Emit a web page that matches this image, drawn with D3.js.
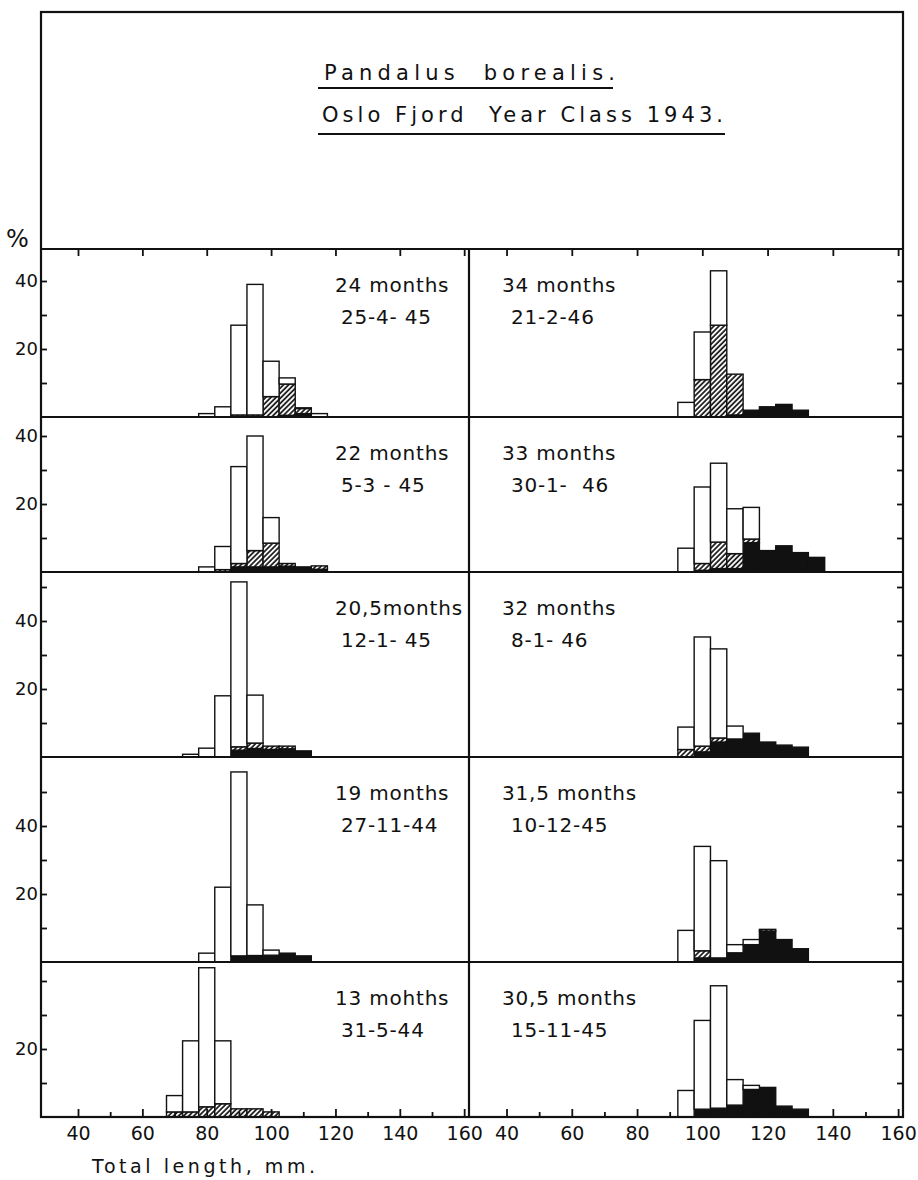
<!DOCTYPE html>
<html>
<head>
<meta charset="utf-8">
<title>Pandalus borealis - Oslo Fjord Year Class 1943</title>
<script src="https://d3js.org/d3.v7.min.js"></script>
<style>
  body { margin: 0; background: #fff; }
  svg { display: block; }
  text { font-family: "DejaVu Sans", sans-serif; fill: #111; }
  .frame { stroke: #111; stroke-width: 2.2; fill: none; }
  .axis path { display: none; }
  .axis line { stroke: #111; stroke-width: 1.8; }
  .axis text { font-size: 18px; }
  .bottom text { font-size: 19px; }
  .bar { stroke: #111; stroke-width: 1.4; }
  .label { font-size: 20px; letter-spacing: 0.8px; white-space: pre; }
</style>
</head>
<body>
<svg id="chart" width="918" height="1180"></svg>
<script>
// centre of each 5 mm length class
var lengthClasses = [70, 75, 80, 85, 90, 95, 100, 105, 110, 115, 120, 125, 130, 135];

// panels: left column top to bottom, then right column top to bottom
var ageLabels = ["24 months", "22 months", "20,5months", "19 months", "13 mohths",
                 "34 months", "33 months", "32 months", "31,5 months", "30,5 months"];
var dateLabels = ["25-4- 45", "5-3 - 45", "12-1- 45", "27-11-44", "31-5-44",
                  "21-2-46", "30-1-  46", "8-1- 46", "10-12-45", "15-11-45"];

// percent per length class, stacked: black at the bottom, hatched, open on top
var blackPct = [
  [0, 0, 0, 0, 0, 0, 0, 0.5, 1.0, 0, 0, 0, 0, 0],
  [0, 0, 0, 0, 1.5, 1.5, 1.5, 1.7, 1.5, 0.8, 0, 0, 0, 0],
  [0, 0, 0, 0, 2, 2.5, 2.2, 2.4, 1.8, 0, 0, 0, 0, 0],
  [0, 0, 0, 0, 1.8, 1.9, 2, 2.6, 1.8, 0, 0, 0, 0, 0],
  [0, 0, 0, 0, 0, 0, 0, 0, 0, 0, 0, 0, 0, 0],
  [0, 0, 0, 0, 0, 0, 0, 0, 0.6, 2, 3, 3.7, 2, 0],
  [0, 0, 0, 0, 0, 0, 0.5, 1, 1, 8.6, 6.3, 7.7, 5.7, 4.3],
  [0, 0, 0, 0, 0, 0, 1.5, 4.4, 5.3, 7, 4.4, 3.5, 2.9, 0],
  [0, 0, 0, 0, 0, 0, 1.2, 1.2, 2.7, 5.1, 9.1, 6.6, 3.9, 0],
  [0, 0, 0, 0, 0, 0, 2.3, 2.6, 3.5, 8.1, 8.7, 3.2, 2.3, 0]
];
var hatchedPct = [
  [0, 0, 0, 0, 0.6, 0.6, 6, 9.2, 1.5, 0, 0, 0, 0, 0],
  [0, 0, 0, 0.7, 1, 4.8, 7, 0.8, 0, 1, 0, 0, 0, 0],
  [0, 0, 0, 0, 1, 1.6, 1, 0.8, 0, 0, 0, 0, 0, 0],
  [0, 0, 0, 0, 0, 0, 0, 0, 0, 0, 0, 0, 0, 0],
  [1.5, 1.5, 3, 3.9, 2.4, 2.4, 1.5, 0, 0, 0, 0, 0, 0, 0],
  [0, 0, 0, 0, 0, 0, 11, 27, 12, 0, 0, 0, 0, 0],
  [0, 0, 0, 0, 0, 0, 2, 7.8, 4.4, 1.1, 0, 0, 0, 0],
  [0, 0, 0, 0, 0, 2.2, 1.7, 1.2, 0, 0, 0, 0, 0, 0],
  [0, 0, 0, 0, 0, 0, 2.1, 0, 0, 0, 0.5, 0, 0, 0],
  [0, 0, 0, 0, 0, 0, 0, 0, 0, 0, 0, 0, 0, 0]
];
var openPct = [
  [0, 0, 1, 3, 26.4, 38.4, 10.4, 1.8, 0.2, 1, 0, 0, 0, 0],
  [0, 0, 1.5, 6.8, 28.5, 33.7, 7.5, 0, 0, 0, 0, 0, 0, 0],
  [0, 0.8, 2.6, 18, 48.5, 14.1, 0, 0, 0, 0, 0, 0, 0, 0],
  [0, 0, 2.6, 22, 54.1, 14.9, 1.5, 0, 0, 0, 0, 0, 0, 0],
  [4.8, 20.9, 40.9, 18.5, 0, 0, 0, 0, 0, 0, 0, 0, 0, 0],
  [0, 0, 0, 0, 0, 4.3, 14, 16, 0, 0, 0, 0, 0, 0],
  [0, 0, 0, 0, 0, 7, 22.5, 23.2, 13.2, 9.3, 0, 0, 0, 0],
  [0, 0, 0, 0, 0, 6.6, 32.1, 26.2, 3.8, 0, 0, 0, 0, 0],
  [0, 0, 0, 0, 0, 9.3, 30.7, 28.6, 2.4, 1.5, 0, 0, 0, 0],
  [0, 0, 0, 0, 0, 7.8, 26.1, 36, 7.5, 1.2, 0, 0, 0, 0]
];

var xMajorTicks = [40, 60, 80, 100, 120, 140, 160];
var xMinorTicks = [50, 70, 90, 110, 130, 150];
var yLabelTicks = [[20, 40], [20, 40], [20, 40], [20, 40], [20]];

// layout
var frameLeft = 41, frameMid = 469, frameRight = 903, frameTop = 12;
var rowEdges = [249, 417, 572, 757, 962, 1117];
var pxPerPct = 3.4;
var xDomain = [28.5, 161.5];
var classWidth = 5;

var svg = d3.select("#chart");

var defs = svg.append("defs");
var hatch = defs.append("pattern")
    .attr("id", "hatch")
    .attr("patternUnits", "userSpaceOnUse")
    .attr("width", 3.6)
    .attr("height", 3.6)
    .attr("patternTransform", "rotate(45)");
hatch.append("rect").attr("width", 3.6).attr("height", 3.6).attr("fill", "#fff");
hatch.append("line")
    .attr("x1", 1).attr("y1", 0).attr("x2", 1).attr("y2", 3.6)
    .attr("stroke", "#111").attr("stroke-width", 1.7);

var fills = { black: "#111", hatched: "url(#hatch)", open: "#fff" };
var stack = d3.stack().keys(["black", "hatched", "open"]);

for (var p = 0; p < 10; p++) {
  drawPanel(p);
}

function drawPanel(p) {
  var col = p < 5 ? 0 : 1;
  var row = p % 5;
  var top = rowEdges[row], base = rowEdges[row + 1];
  var x0 = col === 0 ? frameLeft : frameMid;
  var x1 = col === 0 ? frameMid : frameRight;

  var x = d3.scaleLinear().domain(xDomain).range([x0, x1]);
  var y = d3.scaleLinear().domain([0, (base - top) / pxPerPct]).range([base, top]);

  var rows = lengthClasses.map(function(c, i) {
    return { len: c, black: blackPct[p][i], hatched: hatchedPct[p][i], open: openPct[p][i] };
  });
  var series = stack(rows);

  var g = svg.append("g").attr("class", "panel");
  series.forEach(function(s) {
    g.selectAll(null)
      .data(s.filter(function(d) { return d[1] - d[0] > 0; }))
      .enter()
      .append("rect")
        .attr("class", "bar")
        .attr("x", function(d) { return x(d.data.len - classWidth / 2); })
        .attr("width", function(d) { return x(d.data.len + classWidth / 2) - x(d.data.len - classWidth / 2); })
        .attr("y", function(d) { return y(d[1]); })
        .attr("height", function(d) { return y(d[0]) - y(d[1]); })
        .attr("fill", fills[s.key]);
  });

  // labels
  var lx = col === 0 ? x1 - 134 : x0 + 33;
  g.append("text").attr("class", "label")
    .attr("x", lx).attr("y", top + 43).text(ageLabels[p]);
  g.append("text").attr("class", "label")
    .attr("x", lx + (col === 0 ? 6 : 9)).attr("y", top + 75).text(dateLabels[p]);

  // y ticks
  var maxPct = (base - top - 4) / pxPerPct;
  var yTicks = d3.range(10, maxPct, 10);
  if (col === 0) {
    svg.append("g")
      .attr("class", "axis")
      .attr("transform", "translate(" + frameLeft + ",0)")
      .call(d3.axisLeft(y).tickValues(yTicks).tickSize(-6).tickPadding(3)
        .tickFormat(function(d) { return yLabelTicks[row].indexOf(d) >= 0 ? d : ""; }));
  } else {
    svg.append("g")
      .attr("class", "axis")
      .attr("transform", "translate(" + frameRight + ",0)")
      .call(d3.axisRight(y).tickValues(yTicks).tickSize(-6).tickFormat(""));
  }

  // x ticks at the top of the first row and at the bottom
  if (row === 0) {
    svg.append("g")
      .attr("class", "axis")
      .attr("transform", "translate(0," + top + ")")
      .call(d3.axisTop(x).tickValues(xMajorTicks).tickSize(-7).tickFormat(""));
  }
  if (row === 4) {
    svg.append("g")
      .attr("class", "axis bottom")
      .attr("transform", "translate(0," + base + ")")
      .call(d3.axisBottom(x).tickValues(xMajorTicks).tickSize(-8).tickPadding(10));
    svg.append("g")
      .attr("class", "axis")
      .attr("transform", "translate(0," + base + ")")
      .call(d3.axisBottom(x).tickValues(xMinorTicks).tickSize(-5).tickFormat(""));
  }
}

// frame
var frame = svg.append("g").attr("class", "frame");
frame.append("rect")
  .attr("x", frameLeft).attr("y", frameTop)
  .attr("width", frameRight - frameLeft).attr("height", rowEdges[5] - frameTop);
rowEdges.slice(0, 5).forEach(function(e) {
  frame.append("line").attr("x1", frameLeft).attr("x2", frameRight).attr("y1", e).attr("y2", e);
});
frame.append("line").attr("x1", frameMid).attr("x2", frameMid)
  .attr("y1", rowEdges[0]).attr("y2", rowEdges[5]);

// title
svg.append("text")
  .attr("x", 324).attr("y", 80)
  .style("font-size", "21px").style("white-space", "pre")
  .attr("textLength", 291).attr("lengthAdjust", "spacing")
  .text("Pandalus  borealis.");
svg.append("line").attr("class", "frame").attr("x1", 318).attr("x2", 613).attr("y1", 88).attr("y2", 88);
svg.append("text")
  .attr("x", 322).attr("y", 122)
  .style("font-size", "21px").style("white-space", "pre")
  .attr("textLength", 401).attr("lengthAdjust", "spacing")
  .text("Oslo Fjord  Year Class 1943.");
svg.append("line").attr("class", "frame").attr("x1", 318).attr("x2", 725).attr("y1", 134).attr("y2", 134);

// axis captions
svg.append("text")
  .attr("x", 6).attr("y", 247)
  .style("font-size", "24px")
  .text("%");
svg.append("text")
  .attr("x", 92).attr("y", 1173)
  .style("font-size", "19px")
  .attr("textLength", 223).attr("lengthAdjust", "spacing")
  .text("Total length, mm.");
</script>
</body>
</html>
